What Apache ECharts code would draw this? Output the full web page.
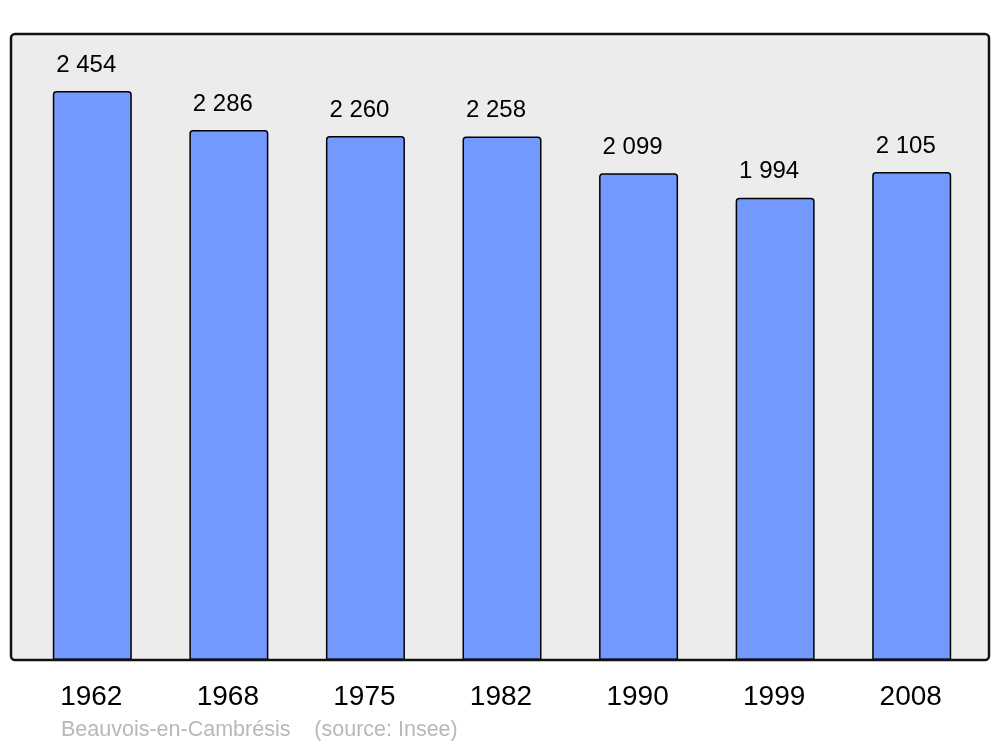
<!DOCTYPE html>
<html><head><meta charset="utf-8">
<script src="https://cdn.jsdelivr.net/npm/echarts@6/dist/echarts.min.js"></script>
<style>html,body{margin:0;padding:0;background:#fff}#c{width:1000px;height:747px}</style>
</head><body><div id="c"></div>
<script>
const years = ['1962','1968','1975','1982','1990','1999','2008'];
const population = [2454, 2286, 2260, 2258, 2099, 1994, 2105];
const sourceText = 'Beauvois-en-Cambrésis    (source: Insee)';

function fmt(v){ return String(v).replace(/\B(?=(\d{3})+(?!\d))/g, ' '); }

const chart = echarts.init(document.getElementById('c'), null, {renderer:'canvas'});
chart.setOption({
  animation:false,
  backgroundColor:'#ffffff',
  textStyle:{fontFamily:'Liberation Sans, Arial, sans-serif'},
  grid:{left:24, right:20, top:34, bottom:87, containLabel:false},
  graphic:[
    {type:'rect', z:-10, shape:{x:11,y:34,width:978,height:626,r:4}, style:{fill:'#ececec', stroke:null}, silent:true},
    {type:'rect', z:100, shape:{x:11,y:34,width:978,height:626,r:4}, style:{fill:null, stroke:'#111', lineWidth:2.5}, silent:true},
    {type:'text', left:61, top:719, style:{text:sourceText, fill:'#b8b8b8', font:'21.5px "Liberation Sans", Arial, sans-serif'}, silent:true}
  ],
  xAxis:{type:'category', data:years,
    axisLine:{show:false}, axisTick:{show:false},
    axisLabel:{color:'#000', fontSize:28, margin:23, padding:[0,2,0,0], fontFamily:'Liberation Sans'}},
  yAxis:{type:'value', min:0, max:2700, show:false, splitLine:{show:false}},
  series:[{type:'bar', data:population, barWidth:79,
    itemStyle:{color:'#7399ff', borderColor:'#000', borderWidth:1.5, borderRadius:[3,3,0,0]},
    label:{show:true, position:'top', distance:14, offset:[-6,0], color:'#000', fontSize:24, fontFamily:'Liberation Sans',
      formatter:p=>fmt(p.value)}
  }]
});
</script></body></html>
